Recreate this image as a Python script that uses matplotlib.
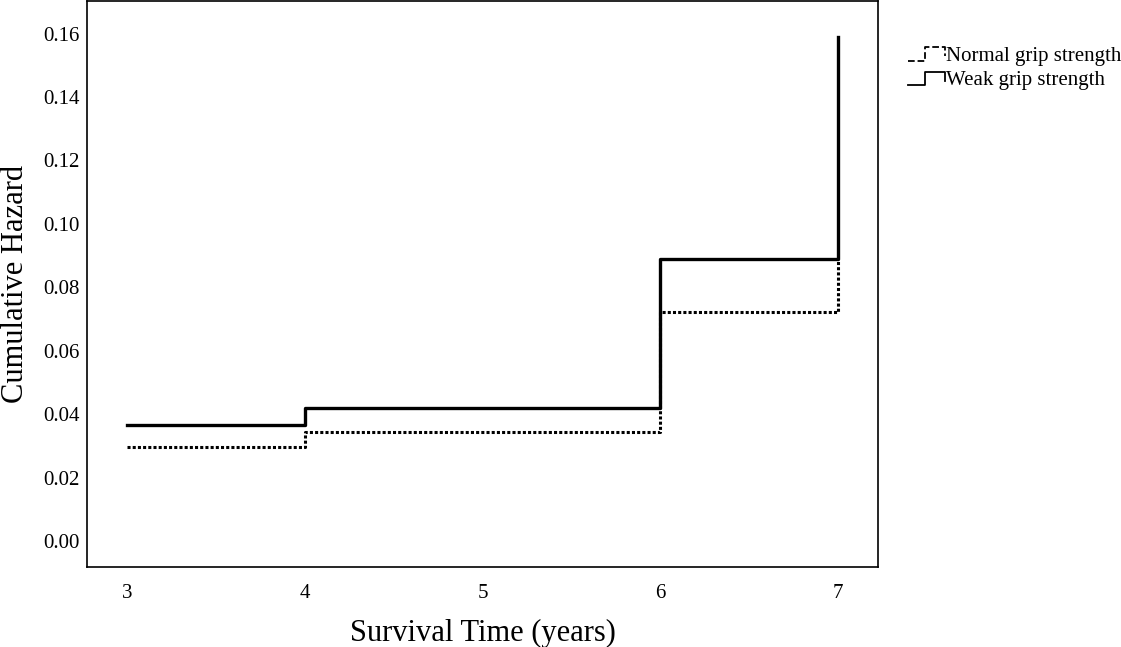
import matplotlib as mpl
mpl.use('Agg')
import matplotlib.pyplot as plt
from matplotlib.lines import Line2D
from matplotlib.legend_handler import HandlerBase

plt.rcParams['font.family'] = ['Liberation Serif', 'DejaVu Serif']

times = [3, 4, 6, 7]
normal = [0.0296, 0.0343, 0.0721, 0.0885]
weak = [0.0365, 0.0419, 0.0889, 0.1590]
labels = ["Normal grip strength", "Weak grip strength"]
yticks = [0.00, 0.02, 0.04, 0.06, 0.08, 0.10, 0.12, 0.14, 0.16]


class StepHandler(HandlerBase):
    # draws a little step shape as the legend key
    def create_artists(self, legend, orig, xd, yd, w, h, fontsize, trans):
        xs = [xd, xd + w * 0.45, xd + w * 0.45, xd + w, xd + w]
        ys = [yd + h * 0.0, yd + h * 0.0, yd + h * 0.95, yd + h * 0.95, yd + h * 0.3]
        ln = Line2D(xs, ys, color=orig.get_color(), lw=1.3,
                    linestyle=orig.get_linestyle(), transform=trans)
        return [ln]


fig = plt.figure(figsize=(11.21, 6.47), dpi=100)
ax = fig.add_axes([87 / 1121, 80 / 647, (878 - 87) / 1121, 566 / 647])

l1, = ax.step(times, normal, where='post', color='black', lw=2.2,
              linestyle=(0, (1.0, 0.7)), label=labels[0])
l2, = ax.step(times, weak, where='post', color='black', lw=2.4, label=labels[1])

ax.set_xlim(2.775, 7.225)
ax.set_ylim(-0.0082, 0.1703)
ax.set_xticks(times + [5])
ax.set_yticks(yticks)
ax.set_yticklabels(["%.2f" % v for v in yticks])
ax.tick_params(length=0, labelsize=15, pad=5)
ax.tick_params(axis='x', pad=12)
for s in ax.spines.values():
    s.set_linewidth(1.2)

ax.set_xlabel("Survival Time (years)", fontsize=22, labelpad=12)
ax.set_ylabel("Cumulative Hazard", fontsize=22, labelpad=10)

leg = ax.legend(handles=[l1, l2], labels=labels, loc='upper left',
                bbox_to_anchor=(1.027, 0.935), frameon=False, fontsize=15,
                handler_map={Line2D: StepHandler()}, handlelength=1.8,
                handletextpad=0.05, labelspacing=0.25, borderaxespad=0)

fig.savefig('out.png', dpi=100)
